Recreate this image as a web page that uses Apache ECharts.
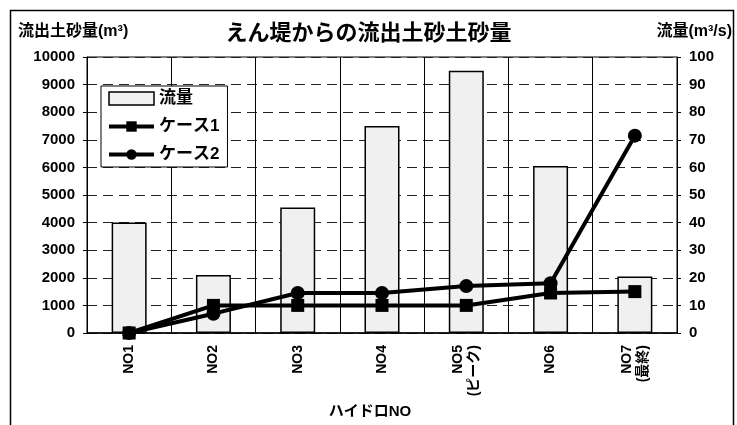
<!DOCTYPE html>
<html>
<head>
<meta charset="utf-8">
<script src="https://cdn.jsdelivr.net/npm/echarts@6/dist/echarts.min.js"></script>
<style>
  html, body { margin: 0; padding: 0; background: #fff; }
  #chart { width: 737px; height: 425px; }
</style>
</head>
<body>
<div id="chart"></div>
<script>
// Hydrograph steps
const categories = ['NO1', 'NO2', 'NO3', 'NO4', 'NO5\n(ピーク)', 'NO6', 'NO7\n(最終)'];
// Discharge (m3/s), right axis
const flow = [40, 21, 45.5, 75, 95, 60.5, 20.5];
// Sediment outflow (m3), left axis
const case1 = [0, 1000, 1000, 1000, 1000, 1450, 1500];
const case2 = [0, 700, 1450, 1450, 1700, 1800, 7150];

const FONT = '"Liberation Sans", "Noto Sans CJK JP", sans-serif';

const chart = echarts.init(document.getElementById('chart'), null, { renderer: 'canvas' });

chart.setOption({
  backgroundColor: '#fff',
  animation: false,
  title: {
    text: 'えん堤からの流出土砂土砂量',
    left: 'center',
    top: 18,
    textStyle: { fontFamily: FONT, fontSize: 22, fontWeight: 'bold', color: '#000' }
  },
  legend: {
    orient: 'vertical',
    left: 101,
    top: 86,
    padding: [4, 8, 4, 6],
    itemGap: 11,
    itemWidth: 45,
    itemHeight: 13,
    backgroundColor: '#fff',
    borderColor: '#000',
    borderWidth: 1,
    textStyle: { fontFamily: FONT, fontSize: 17, fontWeight: 'bold', color: '#000' },
    data: [
      { name: '流量', icon: 'rect', itemStyle: { color: '#f2f2f2', borderColor: '#000', borderWidth: 1.5 } },
      { name: 'ケース1', lineStyle: { width: 4, color: '#000' } },
      { name: 'ケース2', lineStyle: { width: 4, color: '#000' } }
    ]
  },
  grid: {
    left: 87, right: 60, top: 57, bottom: 92,
    show: true, borderColor: '#000', borderWidth: 1, backgroundColor: 'transparent'
  },
  xAxis: {
    type: 'category',
    data: categories,
    boundaryGap: true,
    axisLine: { lineStyle: { color: '#000', width: 1.5 } },
    axisTick: { show: false },
    axisLabel: {
      rotate: 90, margin: 12, interval: 0,
      fontFamily: FONT, fontSize: 14, fontWeight: 'bold', color: '#000', lineHeight: 16
    },
    splitLine: { show: true, lineStyle: { color: '#000', width: 1, type: 'solid' } },
    name: 'ハイドロNO',
    nameLocation: 'middle',
    nameGap: 63,
    nameTextStyle: { fontFamily: FONT, fontSize: 15, fontWeight: 'bold', color: '#000', padding: [0, 24, 0, 0] }
  },
  yAxis: [
    {
      type: 'value',
      min: 0, max: 10000, interval: 1000,
      axisLine: { show: true, lineStyle: { color: '#000', width: 1 } },
      axisTick: { show: true, length: 4, lineStyle: { color: '#000' } },
      axisLabel: {
        margin: 12, fontFamily: FONT, fontSize: 15, fontWeight: 'bold', color: '#000',
        formatter: v => String(v)
      },
      splitLine: { show: true, lineStyle: { color: '#222', width: 1, type: [10, 6] } }
    },
    {
      type: 'value',
      min: 0, max: 100, interval: 10,
      axisLine: { show: true, lineStyle: { color: '#000', width: 1 } },
      axisTick: { show: true, length: 4, lineStyle: { color: '#000' } },
      axisLabel: { margin: 12, fontFamily: FONT, fontSize: 15, fontWeight: 'bold', color: '#000' },
      splitLine: { show: false }
    }
  ],
  graphic: [
    {
      type: 'rect', left: 8, top: 8, z: -10, silent: true,
      shape: { width: 723, height: 440 },
      style: { fill: 'none', stroke: '#000', lineWidth: 1.5 }
    },
    {
      type: 'text', left: 18, top: 24, silent: true,
      style: { text: '流出土砂量(m³)', font: 'bold 16px ' + FONT, fill: '#000' }
    },
    {
      type: 'text', right: 5, top: 24, silent: true,
      style: { text: '流量(m³/s)', font: 'bold 16px ' + FONT, fill: '#000' }
    }
  ],
  series: [
    {
      name: '流量',
      type: 'bar',
      yAxisIndex: 1,
      data: flow,
      barWidth: 35,
      z: 2,
      itemStyle: { color: '#f0f0f0', borderColor: '#000', borderWidth: 1.5 }
    },
    {
      name: 'ケース1',
      type: 'line',
      yAxisIndex: 0,
      data: case1,
      symbol: 'rect',
      symbolSize: 13,
      z: 4,
      lineStyle: { color: '#000', width: 4 },
      itemStyle: { color: '#000' }
    },
    {
      name: 'ケース2',
      type: 'line',
      yAxisIndex: 0,
      data: case2,
      symbol: 'circle',
      symbolSize: 14,
      z: 5,
      lineStyle: { color: '#000', width: 4 },
      itemStyle: { color: '#000' }
    }
  ]
});
</script>
</body>
</html>
